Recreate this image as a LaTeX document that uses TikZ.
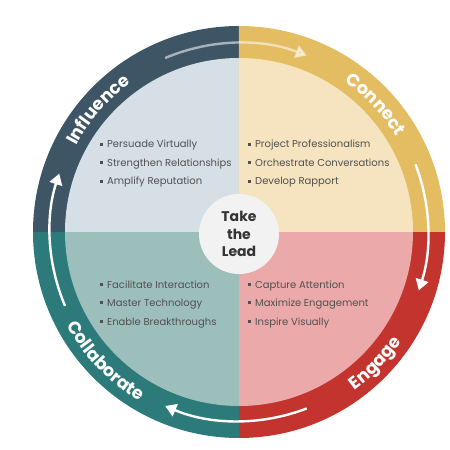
\documentclass[tikz,border=0pt]{standalone}
\usepackage{fontspec}
\setmainfont{Poppins}
\usetikzlibrary{arrows.meta,decorations.text}

\definecolor{inflring}{HTML}{3E5566}
\definecolor{inflfill}{HTML}{D6DFE6}
\definecolor{connring}{HTML}{E4BD62}
\definecolor{connfill}{HTML}{F5E4BF}
\definecolor{engring}{HTML}{C4342F}
\definecolor{engfill}{HTML}{EBAAA9}
\definecolor{collring}{HTML}{2D7A7B}
\definecolor{collfill}{HTML}{9DBFBB}
\definecolor{leadfill}{HTML}{F2F2F2}
\definecolor{leadtext}{HTML}{333333}
\definecolor{itemgray}{HTML}{505050}

\newcommand\bul{\rule[0.22em]{3pt}{3pt}\hspace{4.5pt}}
\newcommand\ringfont{\bfseries\fontsize{17.5}{17.5}\selectfont}

\tikzset{
  item/.style={anchor=base west, inner sep=0pt, text=itemgray, font=\fontsize{10}{12}\selectfont},
  cycarrow/.style={line width=2.4pt, draw=white, -{Triangle[length=11pt,width=13pt]}},
  ringlabel/.style={decorate, decoration={text along path, text align=center, text color=white, text={|\ringfont|#1}}}
}

\begin{document}
\begin{tikzpicture}[x=1pt, y=1pt]
  \useasboundingbox (-239,-218) rectangle (211,232);
  \fill[white] (-239,-218) rectangle (211,232);

  % quadrants: ring and filling
  \foreach \a/\rc/\fc in {90/inflring/inflfill, 0/connring/connfill, -90/engring/engfill, 180/collring/collfill}{
    \fill[\rc] (0,0) -- (\a:206pt) arc[start angle=\a, end angle=\a+90, radius=206pt] -- cycle;
    \fill[\fc] (0,0) -- (\a:174pt) arc[start angle=\a, end angle=\a+90, radius=174pt] -- cycle;
  }

  % cycle arrows
  \draw[cycarrow, draw opacity=0.55, fill opacity=0.55] (113:189pt) arc[start angle=113, end angle=69, radius=189pt];
  \draw[cycarrow] (21:189pt) arc[start angle=21, end angle=-18, radius=189pt];
  \draw[cycarrow] (-69:189pt) arc[start angle=-69, end angle=-113, radius=189pt];
  \draw[cycarrow] (203:189pt) arc[start angle=203, end angle=162, radius=189pt];

  % ring labels
  \path[ringlabel=Influence] (180:184pt) arc[start angle=180, end angle=98, radius=184pt];
  \path[ringlabel=Connect] (84:184pt) arc[start angle=84, end angle=2, radius=184pt];
  \path[ringlabel=Engage] (-85:196pt) arc[start angle=-85, end angle=-3, radius=196pt];
  \path[ringlabel=Collaborate] (-177:196pt) arc[start angle=-177, end angle=-95, radius=196pt];

  % bullet lists
  \foreach \t [count=\i] in {Persuade Virtually, Strengthen Relationships, Amplify Reputation}
    \node[item] (inf\i) at (-139.5, 102.5-18.5*\i) {\bul\t};
  \foreach \t [count=\i] in {Project Professionalism, Orchestrate Conversations, Develop Rapport}
    \node[item] (con\i) at (8.5, 102.5-18.5*\i) {\bul\t};
  \foreach \t [count=\i] in {Facilitate Interaction, Master Technology, Enable Breakthroughs}
    \node[item] (col\i) at (-139.5, -37.5-18.5*\i) {\bul\t};
  \foreach \t [count=\i] in {Capture Attention, Maximize Engagement, Inspire Visually}
    \node[item] (eng\i) at (8.5, -37.5-18.5*\i) {\bul\t};

  \node[circle, fill=leadfill, minimum size=80pt, inner sep=0pt, align=center, text=leadtext,
        font=\bfseries\fontsize{14}{17.5}\selectfont] (lead) at (0,-2) {Take\\the\\Lead};
\end{tikzpicture}
\end{document}
